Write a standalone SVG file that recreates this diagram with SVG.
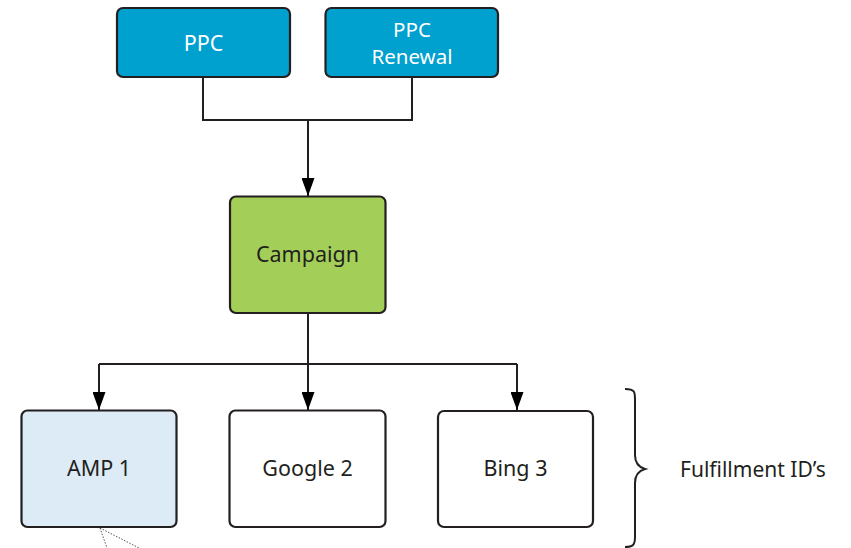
<svg xmlns="http://www.w3.org/2000/svg" width="851" height="548" viewBox="0 0 851 548">
<defs>
<style>
.box{stroke:#231f20;stroke-width:2.2}
.blue{fill:#00a0cf}
.green{fill:#a3cf58}
.light{fill:#ddebf6}
.white{fill:#ffffff}
.t{font-family:"Noto Sans","Open Sans",sans-serif;font-size:21.5px;text-anchor:middle;fill:#231f20}
.tw{fill:#ffffff}
.conn{fill:none;stroke:#231f20;stroke-width:2}
</style>
<marker id="arr" markerWidth="18" markerHeight="13" refX="18" refY="6.5" orient="auto" markerUnits="userSpaceOnUse" viewBox="0 0 18 13">
<path d="M0,0 L18,6.5 L0,13 Z" fill="#000"/>
</marker>
</defs>
<rect width="851" height="548" fill="#ffffff"/>
<g id="connectors">
<path class="conn" d="M203,77 V120 H412 V77"/>
<path class="conn" d="M308,120 V196" marker-end="url(#arr)"/>
<path class="conn" d="M308,313 V364"/>
<path class="conn" d="M99,364 H517"/>
<path class="conn" d="M99,364 V410" marker-end="url(#arr)"/>
<path class="conn" d="M308,364 V410" marker-end="url(#arr)"/>
<path class="conn" d="M517,364 V410" marker-end="url(#arr)"/>
<path d="M100,528 L107,548 M100,528 L139,548" fill="none" stroke="#555" stroke-width="1" stroke-dasharray="1.5,1.5"/>
</g>
<g id="ppc">
<rect class="box blue" x="117" y="8" width="173" height="69" rx="6"/>
<text class="t tw" x="203.5" y="51">PPC</text>
</g>
<g id="ppc-renewal">
<rect class="box blue" x="325.5" y="8" width="172.5" height="69" rx="6"/>
<text class="t tw" x="412" y="37" style="font-size:20.5px">PPC</text>
<text class="t tw" x="412" y="64" style="font-size:20.5px">Renewal</text>
</g>
<g id="campaign">
<rect class="box green" x="230" y="196.5" width="155.5" height="116.5" rx="6"/>
<text class="t" x="307.5" y="262">Campaign</text>
</g>
<g id="amp1">
<rect class="box light" x="21.5" y="410.5" width="155" height="116.5" rx="6"/>
<text class="t" x="99" y="476">AMP 1</text>
</g>
<g id="google2">
<rect class="box white" x="229.5" y="410.5" width="156" height="116.5" rx="6"/>
<text class="t" x="307.5" y="476">Google 2</text>
</g>
<g id="bing3">
<rect class="box white" x="438" y="411" width="155" height="116" rx="6"/>
<text class="t" x="515.5" y="476">Bing 3</text>
</g>
<g id="brace">
<path d="M625,389 C635,389 635,392 635,400 L635,455 C635,463 638,467 645,469 C638,471 635,475 635,483 L635,537 C635,545 633,547 625,547" fill="none" stroke="#231f20" stroke-width="2"/>
<text x="680" y="477" style="font-family:'Noto Sans','Open Sans',sans-serif;font-size:21px;fill:#231f20">Fulfillment ID’s</text>
</g>
</svg>
